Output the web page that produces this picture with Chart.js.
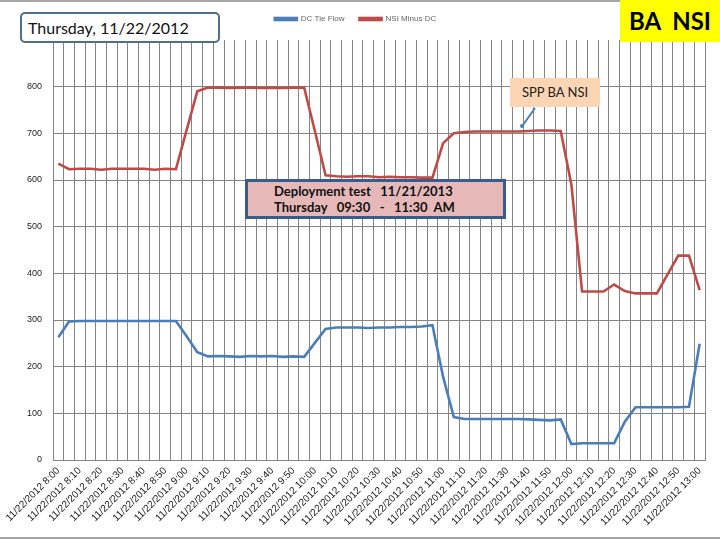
<!DOCTYPE html>
<html>
<head>
<meta charset="utf-8">
<title>BA NSI</title>
<script src="https://cdn.jsdelivr.net/npm/chart.js@4.4.0/dist/chart.umd.min.js"></script>
<style>
  body { margin: 0; background: #fff; }
  #wrap { position: relative; width: 720px; height: 540px; overflow: hidden; font-family: Lato, "Open Sans", sans-serif; }
  #myChart { position: absolute; left: 0; top: 0; }
  .frame { position: absolute; left: 0; width: 720px; height: 2px; background: #a6a6a6; }
  .titlebox { position: absolute; left: 20px; top: 12px; width: 190px; height: 27px; border: 2px solid #4f6d8f; border-radius: 5px; background: #fff;
    font-size: 16px; line-height: 27px; padding-left: 6px; color: #111; box-sizing: content-box; }
  .ba { position: absolute; left: 620px; top: 0; width: 100px; height: 42px; background: #ffff00; font-weight: bold; font-size: 24px;
    line-height: 42px; text-align: center; color: #000; white-space: pre; }
  .spp { position: absolute; left: 510px; top: 78px; width: 90px; height: 29px; background: #fcd5b4; font-size: 13px; line-height: 29px;
    text-align: center; color: #222; }
  .deploy { position: absolute; left: 245px; top: 179px; width: 255px; height: 33px; background: #e6b9b8; border: 3px solid #385d8a;
    font-weight: bold; font-size: 13px; line-height: 16px; padding-top: 1px; color: #111; white-space: pre; box-sizing: content-box; }
  .deploy div { padding-left: 26px; }
  svg { position: absolute; left: 0; top: 0; }
</style>
</head>
<body>
<div id="wrap">
  <canvas id="myChart" width="720" height="540"></canvas>
  <div class="frame" style="top:0"></div>
  <div class="frame" style="top:537px"></div>
  <div class="titlebox">Thursday, 11/22/2012</div>
  <div class="ba">BA  NSI</div>
  <div class="spp">SPP BA NSI</div>
  <svg width="720" height="540">
    <line x1="535" y1="108" x2="523" y2="125" stroke="#4a7ebb" stroke-width="2"/>
    <circle cx="522" cy="126" r="2" fill="#4a7ebb"/>
  </svg>
  <div class="deploy"><div>Deployment test   11/21/2013</div><div>Thursday   09:30   -   11:30  AM</div></div>
</div>
<script>
/* dados */
const dateLabel = "11/22/2012";
const times = [
  "8:00", "8:05", "8:10", "8:15", "8:20", "8:25", "8:30", "8:35", "8:40", "8:45",
  "8:50", "8:55", "9:00", "9:05", "9:10", "9:15", "9:20", "9:25", "9:30", "9:35",
  "9:40", "9:45", "9:50", "9:55", "10:00", "10:05", "10:10", "10:15", "10:20", "10:25",
  "10:30", "10:35", "10:40", "10:45", "10:50", "10:55", "11:00", "11:05", "11:10", "11:15",
  "11:20", "11:25", "11:30", "11:35", "11:40", "11:45", "11:50", "11:55", "12:00", "12:05",
  "12:10", "12:15", "12:20", "12:25", "12:30", "12:35", "12:40", "12:45", "12:50", "12:55",
  "13:00"
];

const dcTieFlow = [
  263, 297, 298, 298, 298, 298, 298, 298, 298, 298,
  298, 298, 265, 231, 222, 223, 222, 221, 223, 222,
  223, 221, 222, 221, 251, 281, 284, 284, 284, 283,
  284, 284, 285, 285, 286, 289, 178, 92, 88, 88,
  88, 88, 88, 88, 87, 86, 85, 87, 34, 36,
  36, 36, 36, 82, 113, 113, 113, 113, 113, 114,
  249
];

const nsiMinusDc = [
  635, 623, 624, 624, 622, 624, 624, 624, 624, 622,
  624, 623, 707, 790, 798, 798, 797, 798, 798, 797,
  798, 797, 798, 798, 705, 610, 608, 607, 608, 608,
  606, 607, 606, 606, 605, 605, 679, 700, 703, 704,
  704, 704, 704, 704, 705, 706, 706, 705, 590, 361,
  361, 361, 376, 362, 357, 357, 357, 398, 438, 438,
  364
];

const yTicks = [0, 100, 200, 300, 400, 500, 600, 700, 800];

const labels1 = times.map((t) => dateLabel + " " + t);

const ctx1 = document.getElementById("myChart").getContext("2d");

// espaco extra abaixo da legenda
const legendGap = {
  id: "legendGap",
  beforeInit(chart) {
    const fit = chart.legend.fit;
    chart.legend.fit = function () {
      fit.bind(chart.legend)();
      this.height += 7;
    };
  },
};

const data1 = {
  labels: labels1,
  datasets: [
    {
      label: "DC Tie Flow",
      data: dcTieFlow,
      borderColor: "#4a7ebb",
      backgroundColor: "#4a7ebb",
      borderWidth: 2.6,
      pointRadius: 0,
      tension: 0,
    },
    {
      label: "NSI Minus DC",
      data: nsiMinusDc,
      borderColor: "#be4b48",
      backgroundColor: "#be4b48",
      borderWidth: 2.6,
      pointRadius: 0,
      tension: 0,
    },
  ],
};

const gridGray = "#858585";

const config1 = {
  type: "line",
  data: data1,
  plugins: [legendGap],
  options: {
    responsive: false,
    animation: false,
    layout: { padding: { top: 0, right: 15, left: 6, bottom: 0 } },
    plugins: {
      legend: {
        display: true,
        labels: {
          boxWidth: 22,
          boxHeight: 2,
          padding: 15,
          color: "#666",
          font: { family: "Liberation Sans", size: 8 },
        },
      },
      tooltip: { enabled: false },
    },
    scales: {
      x: {
        offset: true,
        grid: { offset: true, color: gridGray, drawTicks: false },
        border: { color: gridGray },
        ticks: {
          autoSkip: false,
          minRotation: 45,
          maxRotation: 45,
          padding: 5,
          color: "#1a1a1a",
          font: { family: "Liberation Sans", size: 10 },
          callback: (val, idx) => (idx % 2 === 0 ? labels1[idx] : ""),
        },
        afterFit: (scale) => { scale.height = 80; },
      },
      y: {
        min: 0,
        max: 900,
        afterBuildTicks: (scale) => { scale.ticks = yTicks.concat([900]).map((v) => ({ value: v })); },
        grid: {
          color: (c) => (c.tick && c.tick.value === 900 ? "rgba(0,0,0,0)" : gridGray),
          drawTicks: false,
        },
        border: { color: gridGray },
        ticks: {
          padding: 11,
          color: "#222",
          font: { family: "Liberation Sans", size: 9 },
          callback: (v) => (yTicks.includes(v) ? v : ""),
        },
        afterFit: (scale) => { scale.width = 47; },
      },
    },
  },
};

const myChart1 = new Chart(ctx1, config1);
</script>
</body>
</html>
